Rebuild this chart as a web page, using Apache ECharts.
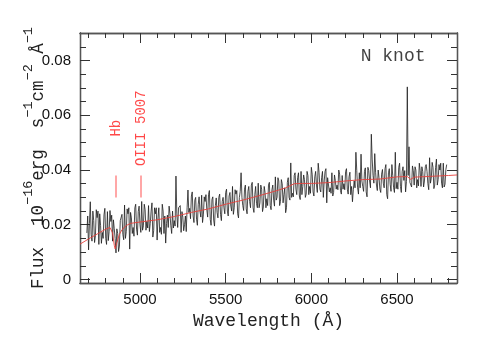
<!DOCTYPE html>
<html>
<head>
<meta charset="utf-8">
<script src="https://cdn.jsdelivr.net/npm/echarts@6/dist/echarts.min.js"></script>
<style>
  html, body { margin: 0; padding: 0; background: #fff; }
  #chart { width: 501px; height: 354px; }
</style>
</head>
<body>
<div id="chart"></div>
<script>
// observed spectrum, N knot (flux in 1e-16 erg s-1 cm-2 A-1)
const wavelength = [
  4690, 4695, 4700, 4705, 4710, 4715, 4720, 4725, 4730, 4735, 4740, 4745, 4750, 4755, 4760, 4765, 4770, 4775, 4780, 4785,
  4790, 4795, 4800, 4805, 4810, 4815, 4820, 4825, 4830, 4835, 4840, 4845, 4850, 4855, 4860, 4865, 4870, 4875, 4880, 4885,
  4890, 4895, 4900, 4905, 4910, 4915, 4920, 4925, 4930, 4935, 4940, 4945, 4950, 4955, 4960, 4965, 4970, 4975, 4980, 4985,
  4990, 4995, 5000, 5005, 5010, 5015, 5020, 5025, 5030, 5035, 5040, 5045, 5050, 5055, 5060, 5065, 5070, 5075, 5080, 5085,
  5090, 5095, 5100, 5105, 5110, 5115, 5120, 5125, 5130, 5135, 5140, 5145, 5150, 5155, 5160, 5165, 5170, 5175, 5180, 5185,
  5190, 5195, 5200, 5205, 5210, 5215, 5220, 5225, 5230, 5235, 5240, 5245, 5250, 5255, 5260, 5265, 5270, 5275, 5280, 5285,
  5290, 5295, 5300, 5305, 5310, 5315, 5320, 5325, 5330, 5335, 5340, 5345, 5350, 5355, 5360, 5365, 5370, 5375, 5380, 5385,
  5390, 5395, 5400, 5405, 5410, 5415, 5420, 5425, 5430, 5435, 5440, 5445, 5450, 5455, 5460, 5465, 5470, 5475, 5480, 5485,
  5490, 5495, 5500, 5505, 5510, 5515, 5520, 5525, 5530, 5535, 5540, 5545, 5550, 5555, 5560, 5565, 5570, 5575, 5580, 5585,
  5590, 5595, 5600, 5605, 5610, 5615, 5620, 5625, 5630, 5635, 5640, 5645, 5650, 5655, 5660, 5665, 5670, 5675, 5680, 5685,
  5690, 5695, 5700, 5705, 5710, 5715, 5720, 5725, 5730, 5735, 5740, 5745, 5750, 5755, 5760, 5765, 5770, 5775, 5780, 5785,
  5790, 5795, 5800, 5805, 5810, 5815, 5820, 5825, 5830, 5835, 5840, 5845, 5850, 5855, 5860, 5865, 5870, 5875, 5880, 5885,
  5890, 5895, 5900, 5905, 5910, 5915, 5920, 5925, 5930, 5935, 5940, 5945, 5950, 5955, 5960, 5965, 5970, 5975, 5980, 5985,
  5990, 5995, 6000, 6005, 6010, 6015, 6020, 6025, 6030, 6035, 6040, 6045, 6050, 6055, 6060, 6065, 6070, 6075, 6080, 6085,
  6090, 6095, 6100, 6105, 6110, 6115, 6120, 6125, 6130, 6135, 6140, 6145, 6150, 6155, 6160, 6165, 6170, 6175, 6180, 6185,
  6190, 6195, 6200, 6205, 6210, 6215, 6220, 6225, 6230, 6235, 6240, 6245, 6250, 6255, 6260, 6265, 6270, 6275, 6280, 6285,
  6290, 6295, 6300, 6305, 6310, 6315, 6320, 6325, 6330, 6335, 6340, 6345, 6350, 6355, 6360, 6365, 6370, 6375, 6380, 6385,
  6390, 6395, 6400, 6405, 6410, 6415, 6420, 6425, 6430, 6435, 6440, 6445, 6450, 6455, 6460, 6465, 6470, 6475, 6480, 6485,
  6490, 6495, 6500, 6505, 6510, 6515, 6520, 6525, 6530, 6535, 6540, 6545, 6550, 6555, 6560, 6565, 6570, 6575, 6580, 6585,
  6590, 6595, 6600, 6605, 6610, 6615, 6620, 6625, 6630, 6635, 6640, 6645, 6650, 6655, 6660, 6665, 6670, 6675, 6680, 6685,
  6690, 6695, 6700, 6705, 6710, 6715, 6720, 6725, 6730, 6735, 6740, 6745, 6750, 6755, 6760, 6765, 6770, 6775, 6780, 6785, 6790
];
const flux = [
  0.0170, 0.0232, 0.0108, 0.0205, 0.0284, 0.0165, 0.0140, 0.0250, 0.0215, 0.0135, 0.0160, 0.0255, 0.0226, 0.0250, 0.0128, 0.0240, 0.0198, 0.0132, 0.0172, 0.0150,
  0.0236, 0.0260, 0.0150, 0.0128, 0.0248, 0.0142, 0.0175, 0.0252, 0.0212, 0.0235, 0.0140, 0.0218, 0.0185, 0.0150, 0.0097, 0.0185, 0.0168, 0.0102, 0.0122, 0.0215,
  0.0210, 0.0238, 0.0165, 0.0145, 0.0272, 0.0150, 0.0175, 0.0258, 0.0240, 0.0262, 0.0111, 0.0245, 0.0225, 0.0168, 0.0190, 0.0158, 0.0262, 0.0275, 0.0184, 0.0162,
  0.0248, 0.0268, 0.0200, 0.0172, 0.0285, 0.0180, 0.0196, 0.0275, 0.0255, 0.0180, 0.0212, 0.0188, 0.0270, 0.0175, 0.0205, 0.0250, 0.0280, 0.0155, 0.0178, 0.0262,
  0.0240, 0.0262, 0.0144, 0.0225, 0.0262, 0.0172, 0.0190, 0.0165, 0.0275, 0.0250, 0.0168, 0.0232, 0.0133, 0.0205, 0.0235, 0.0190, 0.0268, 0.0240, 0.0196, 0.0168,
  0.0250, 0.0188, 0.0215, 0.0195, 0.0378, 0.0240, 0.0190, 0.0262, 0.0255, 0.0270, 0.0172, 0.0248, 0.0228, 0.0178, 0.0200, 0.0232, 0.0175, 0.0262, 0.0327, 0.0245,
  0.0260, 0.0222, 0.0305, 0.0320, 0.0232, 0.0208, 0.0290, 0.0300, 0.0220, 0.0198, 0.0275, 0.0302, 0.0250, 0.0228, 0.0308, 0.0208, 0.0236, 0.0302, 0.0285, 0.0310,
  0.0255, 0.0228, 0.0310, 0.0325, 0.0220, 0.0198, 0.0292, 0.0302, 0.0217, 0.0195, 0.0270, 0.0298, 0.0245, 0.0225, 0.0300, 0.0312, 0.0238, 0.0215, 0.0285, 0.0300,
  0.0262, 0.0240, 0.0318, 0.0330, 0.0250, 0.0232, 0.0305, 0.0318, 0.0268, 0.0250, 0.0340, 0.0238, 0.0262, 0.0328, 0.0312, 0.0325, 0.0240, 0.0225, 0.0300, 0.0322,
  0.0390, 0.0300, 0.0270, 0.0252, 0.0330, 0.0345, 0.0258, 0.0240, 0.0322, 0.0340, 0.0285, 0.0262, 0.0345, 0.0355, 0.0262, 0.0245, 0.0310, 0.0340, 0.0278, 0.0262,
  0.0352, 0.0262, 0.0280, 0.0345, 0.0330, 0.0248, 0.0265, 0.0340, 0.0318, 0.0262, 0.0295, 0.0270, 0.0345, 0.0355, 0.0270, 0.0255, 0.0328, 0.0345, 0.0290, 0.0268,
  0.0375, 0.0290, 0.0300, 0.0372, 0.0360, 0.0270, 0.0285, 0.0365, 0.0350, 0.0280, 0.0310, 0.0335, 0.0244, 0.0262, 0.0355, 0.0372, 0.0300, 0.0290, 0.0426, 0.0300,
  0.0315, 0.0302, 0.0380, 0.0390, 0.0330, 0.0310, 0.0372, 0.0390, 0.0305, 0.0292, 0.0395, 0.0310, 0.0340, 0.0382, 0.0365, 0.0300, 0.0312, 0.0395, 0.0380, 0.0310,
  0.0340, 0.0315, 0.0410, 0.0385, 0.0320, 0.0305, 0.0375, 0.0395, 0.0345, 0.0318, 0.0425, 0.0392, 0.0330, 0.0320, 0.0372, 0.0395, 0.0300, 0.0360, 0.0395, 0.0405,
  0.0280, 0.0372, 0.0368, 0.0320, 0.0335, 0.0315, 0.0390, 0.0305, 0.0318, 0.0382, 0.0362, 0.0330, 0.0345, 0.0328, 0.0400, 0.0385, 0.0325, 0.0312, 0.0380, 0.0330,
  0.0350, 0.0328, 0.0395, 0.0405, 0.0330, 0.0312, 0.0375, 0.0392, 0.0310, 0.0340, 0.0284, 0.0328, 0.0360, 0.0335, 0.0465, 0.0398, 0.0335, 0.0312, 0.0390, 0.0335,
  0.0458, 0.0360, 0.0340, 0.0322, 0.0395, 0.0408, 0.0320, 0.0302, 0.0410, 0.0398, 0.0360, 0.0335, 0.0531, 0.0440, 0.0380, 0.0352, 0.0460, 0.0392, 0.0345, 0.0325,
  0.0400, 0.0372, 0.0330, 0.0318, 0.0385, 0.0402, 0.0352, 0.0335, 0.0405, 0.0420, 0.0310, 0.0295, 0.0390, 0.0405, 0.0348, 0.0322, 0.0420, 0.0380, 0.0335, 0.0318,
  0.0465, 0.0332, 0.0355, 0.0330, 0.0410, 0.0425, 0.0340, 0.0318, 0.0395, 0.0412, 0.0362, 0.0398, 0.0320, 0.0358, 0.0704, 0.0380, 0.0485, 0.0355, 0.0360, 0.0338,
  0.0415, 0.0398, 0.0345, 0.0412, 0.0400, 0.0335, 0.0365, 0.0342, 0.0425, 0.0398, 0.0340, 0.0412, 0.0395, 0.0338, 0.0360, 0.0412, 0.0420, 0.0395, 0.0350, 0.0328,
  0.0445, 0.0352, 0.0370, 0.0428, 0.0410, 0.0332, 0.0345, 0.0410, 0.0440, 0.0345, 0.0365, 0.0420, 0.0400, 0.0425, 0.0352, 0.0335, 0.0425, 0.0338, 0.0348, 0.0402, 0.0420
];

// fitted continuum model (red)
const modelWave = [
  4650, 4700, 4750, 4800, 4825, 4840, 4850, 4855, 4865, 4880, 4895, 4920, 4945,
  5000, 5100, 5200, 5300, 5400, 5500, 5600, 5700, 5800, 5850, 5900, 5950,
  6000, 6100, 6200, 6300, 6400, 6500, 6560, 6580, 6600, 6700, 6800, 6850
];
const modelFlux = [
  0.0129, 0.0148, 0.0166, 0.0184, 0.0190, 0.0170, 0.0125, 0.0112, 0.0135, 0.0165, 0.0182, 0.0197, 0.0205,
  0.0210, 0.0218, 0.0230, 0.0245, 0.0258, 0.0275, 0.0290, 0.0307, 0.0325, 0.0335, 0.0350, 0.0351,
  0.0351, 0.0354, 0.0360, 0.0365, 0.0367, 0.0375, 0.0376, 0.0366, 0.0374, 0.0377, 0.0380, 0.0382
];

// emission line markers
const lineNames = ['Hb', 'OIII 5007'];
const lineWave = [4860, 5007];
const lineLabelFlux = 0.0553;
const markerFlux = [0.030, 0.038];

const panelLabel = 'N knot';
const panelLabelAt = [6477, 0.0817];

// axes
const xRange = [4650, 6850];
const yRange = [-0.0013, 0.0901];
const xMajor = [5000, 5500, 6000, 6500];
const xMinor = [4700, 4800, 4900, 5100, 5200, 5300, 5400, 5600, 5700, 5800, 5900,
                6100, 6200, 6300, 6400, 6600, 6700, 6800];
const yMajor = [0, 0.02, 0.04, 0.06, 0.08];
const yMinor = [0.005, 0.01, 0.015, 0.025, 0.03, 0.035, 0.045, 0.05, 0.055,
                0.065, 0.07, 0.075, 0.085];

const tickFont = 'Liberation Sans';
const titleFont = 'Liberation Mono';
const frameColor = '#555';

function makeAxis(kind, pos, ticks, len, withLabels) {
  const range = kind === 'x' ? xRange : yRange;
  return {
    type: 'value',
    position: pos,
    min: range[0],
    max: range[1],
    axisLine: { show: true, onZero: false, lineStyle: { color: frameColor, width: 1.3 } },
    axisTick: { show: true, inside: true, length: len, customValues: ticks,
                lineStyle: { color: '#333', width: 1 } },
    axisLabel: withLabels ? {
      show: true, customValues: ticks, margin: 9,
      fontFamily: tickFont, fontSize: 15, color: '#111',
      formatter: v => String(v)
    } : { show: false },
    splitLine: { show: false },
    minorTick: { show: false }
  };
}

const xAxes = [
  makeAxis('x', 'bottom', xMajor, 10, true),
  makeAxis('x', 'top', xMajor, 10, false),
  makeAxis('x', 'bottom', xMinor, 5, false),
  makeAxis('x', 'top', xMinor, 5, false)
];
xAxes[0].name = 'Wavelength (Å)';
xAxes[0].nameLocation = 'middle';
xAxes[0].nameGap = 29;
xAxes[0].nameMoveOverlap = false;
xAxes[0].nameTextStyle = { fontFamily: titleFont, fontSize: 18, color: '#222' };

const yAxes = [
  makeAxis('y', 'left', yMajor, 10, true),
  makeAxis('y', 'right', yMajor, 10, false),
  makeAxis('y', 'left', yMinor, 6, false),
  makeAxis('y', 'right', yMinor, 6, false)
];
yAxes[0].name = '{b|Flux  10}{s|−16}{b|erg  s}{s|−1}{b|cm}{s|−2}{b| Å}{s|−1}';
yAxes[0].nameLocation = 'middle';
yAxes[0].nameRotate = 90;
yAxes[0].nameGap = 33;
yAxes[0].nameMoveOverlap = false;
yAxes[0].nameTextStyle = {
  fontFamily: titleFont, fontSize: 17.5, color: '#222',
  rich: {
    b: { fontFamily: titleFont, fontSize: 17.5, color: '#222', lineHeight: 26, verticalAlign: 'bottom' },
    s: { fontFamily: titleFont, fontSize: 13.5, color: '#222', lineHeight: 12, verticalAlign: 'top' }
  }
};

const chart = echarts.init(document.getElementById('chart'), null, { renderer: 'canvas' });

const option = {
  animation: false,
  backgroundColor: '#fff',
  grid: { left: 80, right: 44, top: 33, bottom: 71, containLabel: false, outerBoundsMode: 'none' },
  xAxis: xAxes,
  yAxis: yAxes,
  series: [
    {
      name: 'spectrum',
      type: 'line',
      data: wavelength.map((w, i) => [w, flux[i]]),
      showSymbol: false,
      symbol: 'none',
      lineStyle: { color: '#1e1e1e', width: 0.8 },
      silent: true,
      z: 3
    },
    {
      name: 'model',
      type: 'line',
      data: modelWave.map((w, i) => [w, modelFlux[i]]),
      showSymbol: false,
      symbol: 'none',
      lineStyle: { color: '#e8403c', width: 1, opacity: 0.9 },
      silent: true,
      z: 4
    },
    {
      name: 'lines',
      type: 'scatter',
      symbolSize: 0,
      silent: true,
      data: lineWave.map((w, i) => ({ name: lineNames[i], value: [w, lineLabelFlux] })),
      label: {
        show: true, position: 'inside', rotate: 90, formatter: '{b}',
        fontFamily: titleFont, fontSize: 14, color: '#ff1a1a'
      },
      markLine: {
        silent: true,
        symbol: 'none',
        label: { show: false },
        lineStyle: { color: '#ff8a8a', width: 1.5, type: 'solid' },
        data: lineWave.map(w => [{ coord: [w, markerFlux[0]] }, { coord: [w, markerFlux[1]] }])
      },
      z: 5
    },
    {
      name: 'panel',
      type: 'scatter',
      symbolSize: 0,
      silent: true,
      data: [{ name: panelLabel, value: panelLabelAt }],
      label: {
        show: true, position: 'inside', formatter: '{b}',
        fontFamily: titleFont, fontSize: 18, color: '#111'
      },
      z: 5
    }
  ]
};

chart.setOption(option);
</script>
</body>
</html>
